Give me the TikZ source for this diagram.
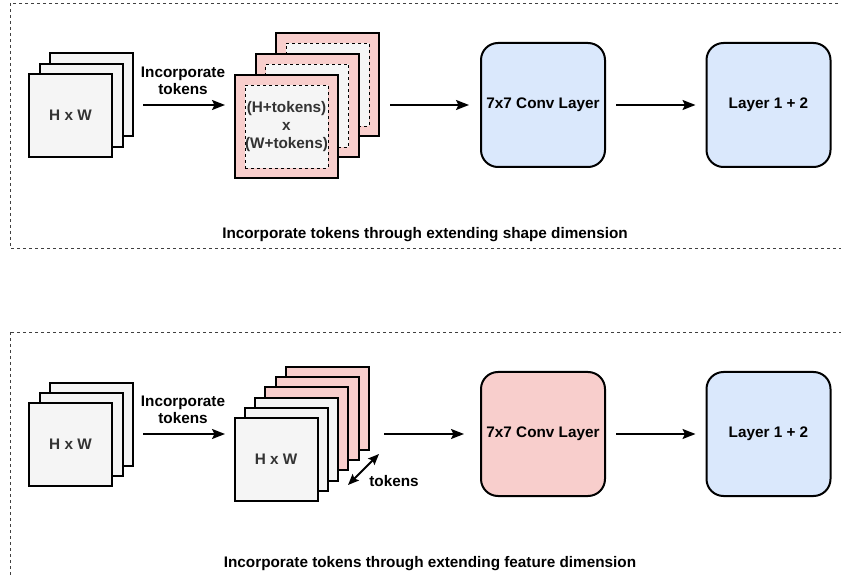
\documentclass[tikz,border=0pt]{standalone}
\usepackage{fontspec}
\setmainfont{Liberation Sans}
\usetikzlibrary{arrows.meta}
\definecolor{grayfill}{HTML}{F5F5F5}
\definecolor{grayfont}{HTML}{333333}
\definecolor{pinkfill}{HTML}{F8CECC}
\definecolor{bluefill}{HTML}{DAE8FC}
\tikzset{
  lbl/.style={font=\fontsize{15.3}{17}\selectfont\bfseries, align=center, inner sep=0},
  sq/.style={draw=black, line width=2pt, fill=grayfill, minimum width=83, minimum height=83, inner sep=0, outer sep=0, text=grayfont, font=\fontsize{15.3}{17}\selectfont\bfseries},
  pinksq/.style={draw=black, line width=2pt, fill=pinkfill, minimum width=103, minimum height=103, inner sep=0, outer sep=0},
  pinkfeat/.style={sq, fill=pinkfill},
  innerdash/.style={draw=black, line width=0.9pt, dash pattern=on 3pt off 3pt, fill=grayfill, minimum width=83, minimum height=83, inner sep=0, outer sep=0, text=grayfont, font=\fontsize{15.3}{18}\selectfont\bfseries, align=center},
  layerbox/.style={draw=black, line width=2pt, rounded corners=17, minimum width=124, minimum height=124, inner sep=0, font=\fontsize{15.3}{17}\selectfont\bfseries},
  frame/.style={draw=black!75, line width=0.8pt, dash pattern=on 3pt off 3pt},
  arr/.style={line width=2pt, -{Stealth[length=13pt,width=10pt,inset=2.5pt]}},
  darr/.style={line width=2pt, {Stealth[length=11pt,width=9pt,inset=2pt]}-{Stealth[length=11pt,width=9pt,inset=2pt]}},
}
\begin{document}
\begin{tikzpicture}[x=1pt,y=-1pt]
\clip (0,0) rectangle (841,577);
\fill[white] (0,0) rectangle (841,577);
% frames
\draw[frame] (10,3) rectangle (860,248);
\draw[frame] (10,332) rectangle (860,600);

% ===== top row =====
\node[sq] (ta3) at (91.5,95) {};
\node[sq] (ta2) at (81,105.2) {};
\node[sq] (ta1) at (70.5,115.5) {H x W};
\node[lbl] (tlab) at (183,81) {Incorporate\\tokens};

\node[pinksq] (tp3) at (327.5,84.5) {};
\node[innerdash] (ti3) at (327.5,84.5) {};
\node[pinksq] (tp2) at (307,105.5) {};
\node[innerdash] (ti2) at (307,105.5) {};
\node[pinksq] (tp1) at (286.5,126.5) {};
\node[innerdash] (ti1) at (286.5,126.5) {(H+tokens)\\x\\(W+tokens)};

\node[layerbox, fill=bluefill] (tconv) at (543,105) {7x7 Conv Layer};
\node[layerbox, fill=bluefill] (tlay) at (768.5,105) {Layer 1 + 2};

\coordinate (ta0) at (143,105);
\coordinate (tp0) at (225,105);
\coordinate (tq0) at (390,105);
\draw[arr] (ta0) -- (tp0);
\draw[arr] (tq0) -- ([xshift=-11]tconv.west);
\draw[arr] ([xshift=10]tconv.east) -- ([xshift=-10]tlay.west);

\node[lbl] (tcap) at (425,235) {Incorporate tokens through extending shape dimension};

% ===== bottom row =====
\node[sq] (ba3) at (91.5,424) {};
\node[sq] (ba2) at (81,434.2) {};
\node[sq] (ba1) at (70.5,444.5) {H x W};
\node[lbl] (blab) at (183,410) {Incorporate\\tokens};

\node[pinkfeat] (bf6) at (327.5,408.5) {};
\node[pinkfeat] (bf5) at (317.2,418.7) {};
\node[pinkfeat] (bf4) at (306.9,428.9) {};
\node[sq] (bf3) at (296.6,439.1) {};
\node[sq] (bf2) at (286.3,449.3) {};
\node[sq] (bf1) at (276,459.5) {H x W};

\coordinate (bd1) at (348,485);
\coordinate (bd2) at (379,454);
\draw[darr] (bd1) -- (bd2);
\node[lbl] (btok) at (394,481) {tokens};

\node[layerbox, fill=pinkfill] (bconv) at (543,434) {7x7 Conv Layer};
\node[layerbox, fill=bluefill] (blay) at (768.5,434) {Layer 1 + 2};

\coordinate (ba0) at (143,434);
\coordinate (bp0) at (225,434);
\coordinate (bq0) at (384,434);
\draw[arr] (ba0) -- (bp0);
\draw[arr] (bq0) -- ([xshift=-16]bconv.west);
\draw[arr] ([xshift=10]bconv.east) -- ([xshift=-10]blay.west);

\node[lbl] (bcap) at (430,564) {Incorporate tokens through extending feature dimension};
\end{tikzpicture}
\end{document}
